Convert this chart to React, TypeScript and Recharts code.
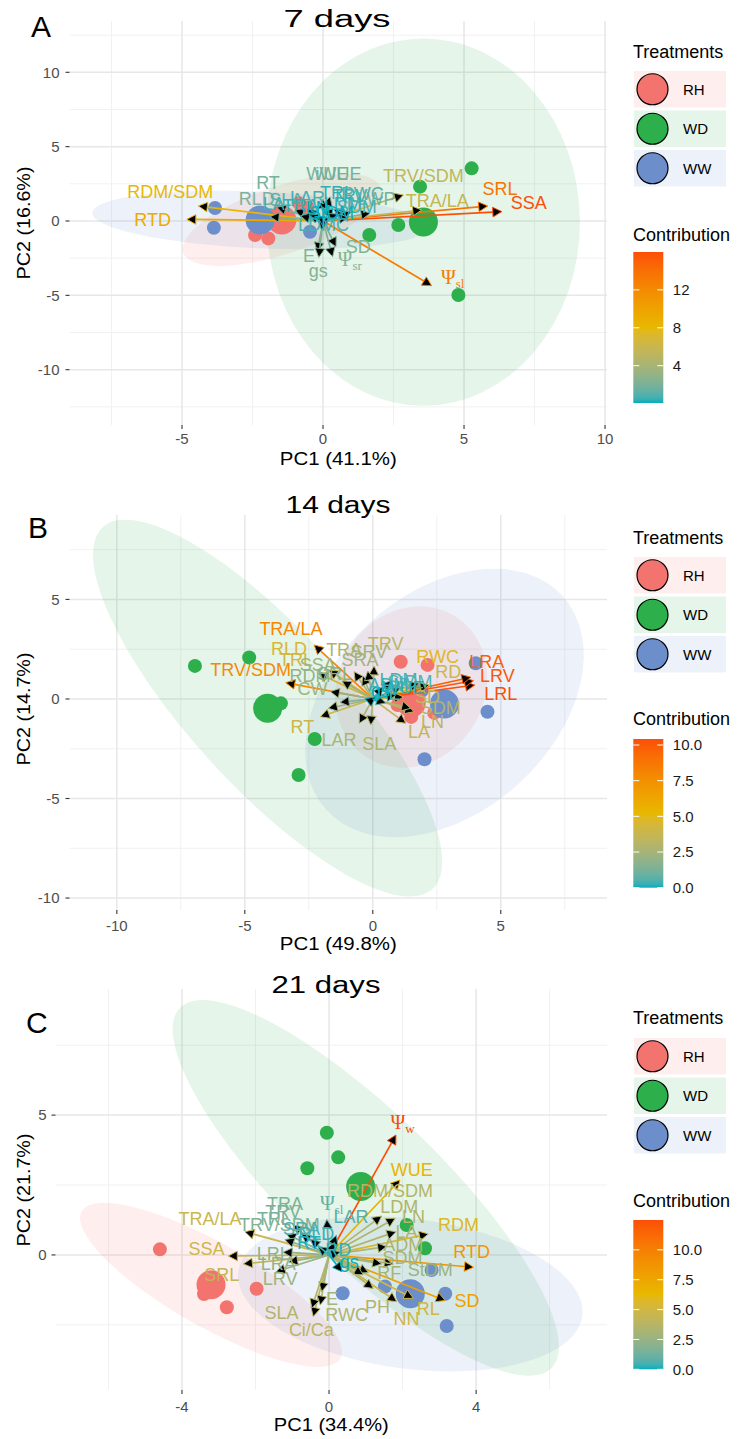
import React from 'react';
import { ScatterChart, Scatter, XAxis, YAxis, CartesianGrid, Customized } from 'recharts';

const SANS = '"Liberation Sans", Arial, Helvetica, sans-serif';
const SERIF = '"Liberation Serif", "Times New Roman", serif';

const treatments = ['RH', 'WD', 'WW'];
const treatmentFill: Record<string, string> = { RH: '#F3736E', WD: '#2DB04B', WW: '#6C8FCB' };

type Sample = { g: string; x: number; y: number };
type Ellipse = { g: string; cx: number; cy: number; ax: number; ay: number; bx: number; by: number };
type Variable = { name: string; x: number; y: number; c: number; lx: number; ly: number };

// ---------------- 7 days ----------------
const samples7: Sample[] = [
  { g: 'RH', x: -2.41, y: -0.94 }, { g: 'RH', x: -1.94, y: -1.17 }, { g: 'RH', x: -1.55, y: 0.35 },
  { g: 'RH', x: -0.85, y: 1.2 }, { g: 'RH', x: -0.55, y: 0.91 },
  { g: 'WD', x: 5.27, y: 3.54 }, { g: 'WD', x: 3.44, y: 2.31 }, { g: 'WD', x: 2.67, y: -0.27 },
  { g: 'WD', x: 1.64, y: -0.94 }, { g: 'WD', x: 4.8, y: -4.98 },
  { g: 'WW', x: -3.83, y: 0.87 }, { g: 'WW', x: -3.87, y: -0.45 }, { g: 'WW', x: -0.46, y: -0.72 },
  { g: 'WW', x: -1.6, y: 0.35 }, { g: 'WW', x: -1.4, y: 0.3 },
];
const centroids7: Sample[] = [
  { g: 'RH', x: -1.46, y: 0.07 }, { g: 'WD', x: 3.56, y: -0.07 }, { g: 'WW', x: -2.23, y: 0.07 },
];
const ellipses7: Ellipse[] = [
  { g: 'RH', cx: -1.46, cy: 0.07, ax: 3.5, ay: 2.2, bx: 0.38, by: -2.17 },
  { g: 'WD', cx: 3.56, cy: -0.07, ax: 5.55, ay: 0, bx: 0, by: 12.35 },
  { g: 'WW', cx: -2.23, cy: 0.07, ax: 5.95, ay: -0.5, bx: 0.1, by: 1.9 },
];
const variables7: Variable[] = [
  { name: 'SSA', x: 6.34, y: 0.63, c: 16.0, lx: 7.3, ly: 1.23 },
  { name: 'SRL', x: 5.84, y: 1.01, c: 13.6, lx: 6.28, ly: 2.2 },
  { name: 'Ψsl', x: 3.85, y: -4.35, c: 13.1, lx: 4.6, ly: -3.8 },
  { name: 'RTD', x: -4.83, y: 0.11, c: 9.3, lx: -6.04, ly: 0.07 },
  { name: 'RDM/SDM', x: -4.42, y: 1.01, c: 8.0, lx: -5.42, ly: 1.97 },
  { name: 'TRA/LA', x: 3.5, y: 0.74, c: 5.6, lx: 4.05, ly: 1.41 },
  { name: 'TRV/SDM', x: 2.85, y: 1.75, c: 5.4, lx: 3.56, ly: 3.09 },
  { name: 'E', x: -0.2, y: -2.05, c: 2.3, lx: -0.5, ly: -2.3 },
  { name: 'gs', x: -0.15, y: -2.45, c: 2.4, lx: -0.17, ly: -3.3 },
  { name: 'Ψsr', x: 0.34, y: -2.4, c: 2.3, lx: 0.95, ly: -2.55 },
  { name: 'SD', x: 0.46, y: -1.73, c: 2.2, lx: 1.25, ly: -1.73 },
  { name: 'RT', x: -1.64, y: 0.92, c: 2.0, lx: -1.95, ly: 2.6 },
  { name: 'RLD', x: -1.88, y: 0.29, c: 2.1, lx: -2.35, ly: 1.48 },
  { name: 'WUE', x: 0.25, y: 1.63, c: 2.0, lx: 0.15, ly: 3.2 },
  { name: 'iWUE', x: 0.0, y: 1.46, c: 1.8, lx: 0.55, ly: 3.2 },
  { name: 'LWP', x: 1.67, y: 0.52, c: 1.9, lx: 1.9, ly: 1.5 },
  { name: 'SLA', x: -1.0, y: 0.75, c: 1.0, lx: -1.3, ly: 1.45 },
  { name: 'LAR', x: -0.55, y: 0.8, c: 0.6, lx: -0.55, ly: 1.6 },
  { name: 'LA', x: -0.8, y: 0.35, c: 0.5, lx: -1.75, ly: 1.2 },
  { name: 'TRA', x: -0.5, y: 0.4, c: 0.4, lx: -0.8, ly: 1.05 },
  { name: 'TRL', x: 0.35, y: 0.85, c: 0.3, lx: 0.5, ly: 1.9 },
  { name: 'TRV', x: 0.75, y: 0.8, c: 0.5, lx: 0.95, ly: 1.7 },
  { name: 'RWC', x: 1.0, y: 0.6, c: 0.9, lx: 1.4, ly: 1.85 },
  { name: 'LDM', x: 0.55, y: 0.45, c: 0.3, lx: 0.7, ly: 1.2 },
  { name: 'SDM', x: 0.9, y: 0.25, c: 0.7, lx: 1.2, ly: 0.95 },
  { name: 'LN', x: -0.3, y: 0.3, c: 0.06, lx: -0.2, ly: 0.9 },
  { name: 'LDMC', x: -0.05, y: -0.6, c: 0.8, lx: 0.02, ly: -0.27 },
  { name: 'StDM', x: 0.2, y: 0.2, c: 0.1, lx: 0.3, ly: 0.55 },
];
const xTicks7 = [-5, 0, 5, 10];
const yTicks7 = [-10, -5, 0, 5, 10];
const xMinor7 = [-7.5, -2.5, 2.5, 7.5];
const yMinor7 = [-12.5, -7.5, -2.5, 2.5, 7.5, 12.5];
const legendTicks7 = [4, 8, 12];

// ---------------- 14 days ----------------
const samples14: Sample[] = [
  { g: 'RH', x: 1.09, y: 1.87 }, { g: 'RH', x: 2.14, y: 1.71 }, { g: 'RH', x: 0.97, y: -0.3 },
  { g: 'RH', x: 1.5, y: -0.9 }, { g: 'RH', x: 2.4, y: -0.7 },
  { g: 'WD', x: -6.95, y: 1.66 }, { g: 'WD', x: -4.83, y: 2.08 }, { g: 'WD', x: -3.59, y: -0.22 },
  { g: 'WD', x: -2.27, y: -2.01 }, { g: 'WD', x: -2.9, y: -3.82 },
  { g: 'WW', x: 4.02, y: 1.79 }, { g: 'WW', x: 4.48, y: -0.64 }, { g: 'WW', x: 2.02, y: -3.03 },
  { g: 'WW', x: 1.6, y: 0.5 }, { g: 'WW', x: 1.9, y: 0.4 },
];
const centroids14: Sample[] = [
  { g: 'RH', x: 1.5, y: -0.2 }, { g: 'WD', x: -4.11, y: -0.47 }, { g: 'WW', x: 2.8, y: -0.25 },
];
const ellipses14: Ellipse[] = [
  { g: 'RH', cx: 1.5, cy: 0.6, ax: 2.73, ay: 2.01, bx: 1.17, by: -3.52 },
  { g: 'WD', cx: -4.11, cy: -0.46, ax: 6.44, ay: -9.09, bx: 2.25, by: 2.64 },
  { g: 'WW', cx: 2.8, cy: -0.2, ax: 4.61, ay: 5.38, bx: 2.89, by: -4.07 },
];
const variables14: Variable[] = [
  { name: 'LRL', x: 3.98, y: 0.7, c: 10.42, lx: 5.0, ly: 0.28 },
  { name: 'LRV', x: 3.93, y: 0.92, c: 10.1, lx: 4.87, ly: 1.2 },
  { name: 'LRA', x: 3.83, y: 1.09, c: 9.8, lx: 4.45, ly: 1.87 },
  { name: 'TRA/LA', x: -2.29, y: 2.71, c: 8.0, lx: -3.2, ly: 3.55 },
  { name: 'TRV/SDM', x: -3.4, y: 0.82, c: 7.8, lx: -4.77, ly: 1.46 },
  { name: 'RLD', x: -1.72, y: 1.45, c: 4.5, lx: -3.27, ly: 2.55 },
  { name: 'TRL', x: -2.13, y: 1.29, c: 4.2, lx: -3.0, ly: 2.0 },
  { name: 'RT', x: -2.05, y: -0.89, c: 4.0, lx: -2.75, ly: -1.39 },
  { name: 'RWC', x: 2.2, y: 0.7, c: 4.8, lx: 2.53, ly: 2.13 },
  { name: 'RD', x: 1.81, y: 0.79, c: 4.0, lx: 2.95, ly: 1.37 },
  { name: 'TRV', x: 0.05, y: 1.66, c: 3.1, lx: 0.5, ly: 2.8 },
  { name: 'TRA', x: -0.73, y: 1.37, c: 2.8, lx: -1.12, ly: 2.5 },
  { name: 'SRA', x: -0.4, y: 1.15, c: 2.4, lx: -0.5, ly: 2.0 },
  { name: 'SRV', x: -0.2, y: 1.4, c: 2.3, lx: -0.15, ly: 2.4 },
  { name: 'SSA', x: -1.2, y: 0.9, c: 2.2, lx: -2.15, ly: 1.75 },
  { name: 'RDM', x: -1.66, y: 0.37, c: 1.9, lx: -2.45, ly: 1.2 },
  { name: 'CW', x: -1.74, y: -0.47, c: 2.3, lx: -2.36, ly: 0.54 },
  { name: 'SRL', x: -1.28, y: -0.17, c: 1.6, lx: -1.5, ly: 1.3 },
  { name: 'LA', x: 1.29, y: -1.22, c: 3.6, lx: 1.81, ly: -1.64 },
  { name: 'LN', x: 1.61, y: -0.64, c: 3.3, lx: 2.33, ly: -1.14 },
  { name: 'SDM', x: 1.48, y: -0.47, c: 2.9, lx: 2.65, ly: -0.45 },
  { name: 'SD', x: 1.2, y: 0.1, c: 3.4, lx: 2.14, ly: 0.12 },
  { name: 'SLA', x: -0.08, y: -1.31, c: 2.8, lx: 0.25, ly: -2.23 },
  { name: 'LAR', x: -0.53, y: -1.22, c: 2.7, lx: -1.32, ly: -2.06 },
  { name: 'LDM', x: 0.7, y: 0.9, c: 0.4, lx: 1.0, ly: 1.0 },
  { name: 'StDM', x: 1.1, y: 0.6, c: 0.6, lx: 1.45, ly: 0.9 },
  { name: 'ADM', x: 0.4, y: 0.6, c: 0.3, lx: 0.6, ly: 0.75 },
  { name: 'E', x: 0.5, y: -0.2, c: 0.5, lx: 0.85, ly: 0.25 },
  { name: 'WUE', x: 0.9, y: 0.2, c: 0.1, lx: 1.2, ly: 0.55 },
  { name: 'gs', x: 0.1, y: 0.1, c: 0.0, lx: 0.3, ly: 0.4 },
];
const xTicks14 = [-10, -5, 0, 5];
const yTicks14 = [-10, -5, 0, 5];
const xMinor14 = [-7.5, -2.5, 2.5, 7.5];
const yMinor14 = [-7.5, -2.5, 2.5, 7.5];
const legendTicks14 = [0, 2.5, 5, 7.5, 10];

// ---------------- 21 days ----------------
const samples21: Sample[] = [
  { g: 'RH', x: -4.6, y: 0.2 }, { g: 'RH', x: -2.78, y: -1.87 }, { g: 'RH', x: -1.97, y: -1.21 },
  { g: 'RH', x: -3.3, y: -0.9 }, { g: 'RH', x: -3.4, y: -1.4 },
  { g: 'WD', x: -0.06, y: 4.37 }, { g: 'WD', x: 0.25, y: 3.49 }, { g: 'WD', x: -0.59, y: 3.1 },
  { g: 'WD', x: 2.11, y: 1.07 }, { g: 'WD', x: 2.61, y: 0.24 },
  { g: 'WW', x: 0.37, y: -1.37 }, { g: 'WW', x: 3.16, y: -1.39 }, { g: 'WW', x: 3.2, y: -2.54 },
  { g: 'WW', x: 2.79, y: -0.54 }, { g: 'WW', x: 1.52, y: -1.13 },
];
const centroids21: Sample[] = [
  { g: 'RH', x: -3.21, y: -1.07 }, { g: 'WD', x: 0.86, y: 2.45 }, { g: 'WW', x: 2.21, y: -1.39 },
];
const ellipses21: Ellipse[] = [
  { g: 'RH', cx: -3.21, cy: -1.07, ax: 3.52, ay: -2.63, bx: 0.56, by: 1.3 },
  { g: 'WD', cx: 1.0, cy: 2.4, ax: 5.06, ay: -6.43, bx: 1.41, by: 1.94 },
  { g: 'WW', cx: 2.21, cy: -1.39, ax: 4.68, ay: -0.79, bx: -0.26, by: -2.66 },
];
const variables21: Variable[] = [
  { name: 'Ψw', x: 1.82, y: 4.29, c: 12.5, lx: 2.0, ly: 4.76 },
  { name: 'RTD', x: 3.93, y: -0.44, c: 8.6, lx: 3.88, ly: 0.12 },
  { name: 'SD', x: 3.16, y: -1.63, c: 8.0, lx: 3.75, ly: -1.63 },
  { name: 'WUE', x: 1.93, y: 2.68, c: 6.5, lx: 2.25, ly: 3.04 },
  { name: 'RDM', x: 2.7, y: 0.75, c: 5.6, lx: 3.52, ly: 1.07 },
  { name: 'RL', x: 2.29, y: -1.55, c: 5.0, lx: 2.7, ly: -1.92 },
  { name: 'NN', x: 1.84, y: -1.67, c: 4.9, lx: 2.11, ly: -2.26 },
  { name: 'TRA/LA', x: -2.29, y: 0.83, c: 4.7, lx: -3.24, ly: 1.31 },
  { name: 'SSA', x: -2.74, y: -0.04, c: 4.8, lx: -3.33, ly: 0.24 },
  { name: 'SRL', x: -2.33, y: -0.32, c: 4.3, lx: -2.92, ly: -0.71 },
  { name: 'Ci/Ca', x: -0.43, y: -2.2, c: 4.0, lx: -0.48, ly: -2.68 },
  { name: 'RDM/SDM', x: 1.43, y: 1.39, c: 3.6, lx: 1.66, ly: 2.29 },
  { name: 'LDM', x: 1.8, y: 1.31, c: 3.5, lx: 1.91, ly: 1.73 },
  { name: 'LN', x: 1.82, y: 0.83, c: 3.4, lx: 2.3, ly: 1.37 },
  { name: 'LA', x: 1.57, y: 0.3, c: 3.3, lx: 2.11, ly: 0.83 },
  { name: 'ADM', x: 1.75, y: -0.32, c: 3.2, lx: 2.02, ly: 0.36 },
  { name: 'SDM', x: 1.43, y: -0.32, c: 3.0, lx: 2.0, ly: -0.08 },
  { name: 'StDM', x: 1.07, y: -0.63, c: 2.6, lx: 2.75, ly: -0.51 },
  { name: 'RF', x: 0.93, y: -0.71, c: 3.0, lx: 1.64, ly: -0.63 },
  { name: 'PH', x: 1.2, y: -1.2, c: 3.4, lx: 1.32, ly: -1.85 },
  { name: 'RWC', x: -0.24, y: -1.79, c: 3.4, lx: 0.48, ly: -2.14 },
  { name: 'E', x: -0.2, y: -1.31, c: 3.0, lx: 0.08, ly: -1.55 },
  { name: 'SLA', x: -0.47, y: -1.9, c: 3.5, lx: -1.29, ly: -2.06 },
  { name: 'LRV', x: -1.44, y: -0.6, c: 2.6, lx: -1.33, ly: -0.83 },
  { name: 'LRA', x: -1.1, y: -0.25, c: 2.4, lx: -1.38, ly: -0.3 },
  { name: 'LRL', x: -1.25, y: 0.1, c: 2.2, lx: -1.52, ly: 0.06 },
  { name: 'TRA', x: -0.97, y: 1.07, c: 1.6, lx: -1.2, ly: 1.85 },
  { name: 'TRV', x: -0.75, y: 0.75, c: 1.5, lx: -1.25, ly: 1.55 },
  { name: 'TRL', x: -1.15, y: 0.75, c: 1.4, lx: -1.5, ly: 1.3 },
  { name: 'TRV/SDM', x: -1.2, y: 0.55, c: 1.8, lx: -1.35, ly: 1.08 },
  { name: 'Ψsl', x: -0.06, y: 1.27, c: 1.0, lx: 0.07, ly: 1.85 },
  { name: 'LAR', x: 0.2, y: 0.7, c: 0.8, lx: 0.6, ly: 1.37 },
  { name: 'RLD', x: 0.15, y: 0.45, c: 0.3, lx: -0.35, ly: 0.75 },
  { name: 'RD', x: 0.3, y: 0.1, c: 0.2, lx: 0.25, ly: 0.2 },
  { name: 'RT', x: -0.3, y: 0.3, c: 0.1, lx: -0.55, ly: 0.45 },
  { name: 'SRA', x: -0.5, y: 0.55, c: 0.6, lx: -0.75, ly: 0.95 },
  { name: 'gs', x: 0.35, y: -0.6, c: 0.0, lx: 0.55, ly: -0.25 },
];
const xTicks21 = [-4, 0, 4];
const yTicks21 = [0, 5];
const xMinor21 = [-6, -2, 2, 6];
const yMinor21 = [-2.5, 2.5, 7.5];
const legendTicks21 = [0, 2.5, 5, 7.5, 10];

// ---------- contribution colour ramp (interpolated in CIELAB) ----------
const toLin = (c: number) => { const v = c / 255; return v <= 0.04045 ? v / 12.92 : Math.pow((v + 0.055) / 1.055, 2.4); };
const fromLin = (c: number) => {
  const v = c <= 0.0031308 ? 12.92 * c : 1.055 * Math.pow(c, 1 / 2.4) - 0.055;
  return Math.round(Math.min(1, Math.max(0, v)) * 255);
};
const EPS = 216 / 24389, KAP = 24389 / 27;
const fLab = (t: number) => (t > EPS ? Math.cbrt(t) : (KAP * t + 16) / 116);
const fInv = (t: number) => (t * t * t > EPS ? t * t * t : (116 * t - 16) / KAP);
const WX = 0.95047, WZ = 1.08883;
function labOf(hex: string): number[] {
  const r = toLin(parseInt(hex.slice(1, 3), 16));
  const g = toLin(parseInt(hex.slice(3, 5), 16));
  const b = toLin(parseInt(hex.slice(5, 7), 16));
  const X = (0.4124 * r + 0.3576 * g + 0.1805 * b) / WX;
  const Y = 0.2126 * r + 0.7152 * g + 0.0722 * b;
  const Z = (0.0193 * r + 0.1192 * g + 0.9505 * b) / WZ;
  const fx = fLab(X), fy = fLab(Y), fz = fLab(Z);
  return [116 * fy - 16, 500 * (fx - fy), 200 * (fy - fz)];
}
function hexOf(lab: number[]): string {
  const fy = (lab[0] + 16) / 116, fx = fy + lab[1] / 500, fz = fy - lab[2] / 200;
  const X = fInv(fx) * WX, Y = fInv(fy), Z = fInv(fz) * WZ;
  const r = fromLin(3.2406 * X - 1.5372 * Y - 0.4986 * Z);
  const g = fromLin(-0.9689 * X + 1.8758 * Y + 0.0415 * Z);
  const b = fromLin(0.0557 * X - 0.204 * Y + 1.057 * Z);
  return '#' + [r, g, b].map((v) => v.toString(16).padStart(2, '0')).join('');
}
const RAMP = ['#00AFBB', '#E7B800', '#FC4E07'].map(labOf);
function rampColor(t: number): string {
  const tt = Math.max(0, Math.min(1, t));
  const seg = tt < 0.5 ? 0 : 1;
  const f = tt < 0.5 ? tt * 2 : (tt - 0.5) * 2;
  const a = RAMP[seg], b = RAMP[seg + 1];
  return hexOf([a[0] + (b[0] - a[0]) * f, a[1] + (b[1] - a[1]) * f, a[2] + (b[2] - a[2]) * f]);
}

// ---------- panel setup ----------
type Layout = {
  height: number; top: number; yAxisWidth: number; xAxisHeight: number; xTickMargin: number; yTickMargin: number;
  tagX: number; tagY: number; titleX: number; titleY: number; titleLen: number;
  xTitleY: number; xTitleLen: number; yTitleMid: number;
  treatY: number; keyTops: number[]; contribY: number; barTop: number; barBottom: number;
};
type Panel = {
  tag: string; title: string; pc1: number; pc2: number;
  samples: Sample[]; centroids: Sample[]; ellipses: Ellipse[]; variables: Variable[];
  xDomain: number[]; yDomain: number[]; xTicks: number[]; yTicks: number[]; xMinor: number[]; yMinor: number[];
  legendTicks: number[]; legendDigits: number; layout: Layout;
};

const panels: Panel[] = [
  {
    tag: 'A', title: '7 days', pc1: 41.1, pc2: 16.6,
    samples: samples7, centroids: centroids7, ellipses: ellipses7, variables: variables7,
    xDomain: [-8.99, 10.07], yDomain: [-13.72, 13.45],
    xTicks: xTicks7, yTicks: yTicks7, xMinor: xMinor7, yMinor: yMinor7,
    legendTicks: legendTicks7, legendDigits: 0,
    layout: {
      height: 480, top: 21, yAxisWidth: 69.5, xAxisHeight: 55, xTickMargin: 4, yTickMargin: 6,
      tagX: 31, tagY: 37, titleX: 337, titleY: 26.7, titleLen: 107,
      xTitleY: 464.5, xTitleLen: 117, yTitleMid: 223,
      treatY: 57.5, keyTops: [71, 110.5, 150], contribY: 240.5, barTop: 252, barBottom: 403,
    },
  },
  {
    tag: 'B', title: '14 days', pc1: 49.8, pc2: 14.7,
    samples: samples14, centroids: centroids14, ellipses: ellipses14, variables: variables14,
    xDomain: [-11.85, 9.15], yDomain: [-10.6, 9.24],
    xTicks: xTicks14, yTicks: yTicks14, xMinor: xMinor14, yMinor: yMinor14,
    legendTicks: legendTicks14, legendDigits: 1,
    layout: {
      height: 480, top: 35, yAxisWidth: 69.5, xAxisHeight: 50, xTickMargin: 6, yTickMargin: 6,
      tagX: 28, tagY: 58, titleX: 338, titleY: 33.3, titleLen: 105,
      xTitleY: 469.5, xTitleLen: 117, yTitleMid: 229,
      treatY: 64.3, keyTops: [77, 116.5, 156], contribY: 245.3, barTop: 259, barBottom: 407.7,
    },
  },
  {
    tag: 'C', title: '21 days', pc1: 34.4, pc2: 21.7,
    samples: samples21, centroids: centroids21, ellipses: ellipses21, variables: variables21,
    xDomain: [-7.44, 7.56], yDomain: [-4.83, 9.51],
    xTicks: xTicks21, yTicks: yTicks21, xMinor: xMinor21, yMinor: yMinor21,
    legendTicks: legendTicks21, legendDigits: 1,
    layout: {
      height: 479, top: 29, yAxisWidth: 55.5, xAxisHeight: 49, xTickMargin: 7, yTickMargin: 5,
      tagX: 26, tagY: 73, titleX: 326, titleY: 33.3, titleLen: 109,
      xTitleY: 471, xTitleLen: 115, yTitleMid: 230,
      treatY: 64, keyTops: [78, 117.5, 157], contribY: 247, barTop: 260, barBottom: 409.3,
    },
  },
];

const PLOT_RIGHT = 607;

// ---------- drawing helpers ----------
const Blank = () => <g />;

const ellipseLine = (fill: string) => (p: any) => {
  const pts = (p && p.points) || [];
  if (pts.length < 3) return <g />;
  const [o, u, v] = pts;
  return (
    <circle
      cx={0} cy={0} r={1} fill={fill} fillOpacity={0.12} stroke="none"
      transform={`matrix(${u.x - o.x},${u.y - o.y},${v.x - o.x},${v.y - o.y},${o.x},${o.y})`}
    />
  );
};

const arrowLines = (cols: string[]) => (p: any) => {
  const pts = (p && p.points) || [];
  const out: React.ReactNode[] = [];
  for (let i = 0; i + 1 < pts.length; i += 2) {
    const o = pts[i], t = pts[i + 1];
    const col = cols[i / 2];
    const dx = t.x - o.x, dy = t.y - o.y;
    const len = Math.hypot(dx, dy) || 1;
    const ux = dx / len, uy = dy / len;
    const L = 9, W = 4.8;
    const bx = t.x - ux * L, by = t.y - uy * L;
    out.push(
      <g key={i}>
        <line x1={o.x} y1={o.y} x2={bx} y2={by} stroke={col} strokeWidth={1.7} />
        <polygon
          points={`${t.x},${t.y} ${bx - uy * W},${by + ux * W} ${bx + uy * W},${by - ux * W}`}
          fill="#000" stroke={col} strokeWidth={1} strokeLinejoin="miter"
        />
      </g>,
    );
  }
  return <g>{out}</g>;
};

const VarLabel = (p: any) => {
  const { cx, cy, payload } = p;
  if (cx == null || cy == null) return <g />;
  const name: string = payload.name;
  if (name.startsWith('Ψ')) {
    return (
      <text x={cx} y={cy} dy="0.35em" textAnchor="middle" fill={payload.col} fontFamily={SERIF} fontSize={20}>
        Ψ<tspan fontSize={13} dy={4}>{name.slice(1)}</tspan>
      </text>
    );
  }
  return (
    <text x={cx} y={cy} dy="0.36em" textAnchor="middle" fill={payload.col} fontFamily={SANS} fontSize={18}>
      {name}
    </text>
  );
};

const dot = (r: number, fill: string) => (p: any) =>
  p.cx == null ? <g /> : <circle cx={p.cx} cy={p.cy} r={r} fill={fill} />;

function Decor({ panel, cmin, cmax }: { panel: Panel; cmin: number; cmax: number }) {
  const L = panel.layout;
  const midX = (L.yAxisWidth + PLOT_RIGHT) / 2;
  const gid = 'contribBar' + panel.tag;
  const barX = 633.3, barW = 30;
  const barH = L.barBottom - L.barTop;
  const stops = Array.from({ length: 41 }, (_, i) => i / 40);
  return (
    <g fontFamily={SANS}>
      <defs>
        <linearGradient id={gid} x1="0" y1="1" x2="0" y2="0">
          {stops.map((s) => <stop key={s} offset={s} stopColor={rampColor(s)} />)}
        </linearGradient>
      </defs>
      <text x={L.tagX} y={L.tagY} fontSize={30} fill="#000">{panel.tag}</text>
      <text x={L.titleX} y={L.titleY} fontSize={23} fill="#000" textAnchor="middle"
        textLength={L.titleLen} lengthAdjust="spacingAndGlyphs">{panel.title}</text>
      <text x={midX} y={L.xTitleY} fontSize={18} fill="#000" textAnchor="middle"
        textLength={L.xTitleLen} lengthAdjust="spacingAndGlyphs">{`PC1 (${panel.pc1}%)`}</text>
      <text transform={`translate(29.5, ${L.yTitleMid}) rotate(-90)`} fontSize={18} fill="#000" textAnchor="middle"
        textLength={113} lengthAdjust="spacingAndGlyphs">{`PC2 (${panel.pc2}%)`}</text>

      <text x={633} y={L.treatY} fontSize={18} fill="#000">Treatments</text>
      {treatments.map((g, i) => {
        const top = L.keyTops[i];
        return (
          <g key={g}>
            <rect x={634} y={top} width={92} height={36.5} fill={treatmentFill[g]} fillOpacity={0.12} />
            <circle cx={652.5} cy={top + 18.25} r={15.5} fill={treatmentFill[g]} stroke="#000" strokeWidth={1.2} />
            <text x={683} y={top + 18.25} dy="0.36em" fontSize={15} fill="#000">{g}</text>
          </g>
        );
      })}

      <text x={633} y={L.contribY} fontSize={18} fill="#000">Contribution</text>
      <rect x={barX} y={L.barTop} width={barW} height={barH} fill={`url(#${gid})`} />
      {panel.legendTicks.map((v) => {
        const y = L.barBottom - ((v - cmin) / (cmax - cmin)) * barH;
        return (
          <g key={v}>
            <line x1={barX} x2={barX + 6} y1={y} y2={y} stroke="#fff" strokeWidth={1} />
            <line x1={barX + barW - 6} x2={barX + barW} y1={y} y2={y} stroke="#fff" strokeWidth={1} />
            <text x={barX + barW + 9.5} y={y} dy="0.36em" fontSize={15} fill="#1a1a1a">
              {v.toFixed(panel.legendDigits)}
            </text>
          </g>
        );
      })}
    </g>
  );
}

function Biplot({ panel }: { panel: Panel }) {
  const L = panel.layout;
  const cs = panel.variables.map((v) => v.c);
  const cmin = Math.min(...cs), cmax = Math.max(...cs);
  const colOf = (c: number) => rampColor((c - cmin) / (cmax - cmin));
  const arrowData = panel.variables.flatMap((v) => [{ x: 0, y: 0 }, { x: v.x, y: v.y }]);
  const arrowCols = panel.variables.map((v) => colOf(v.c));
  const labelData = panel.variables.map((v) => ({ x: v.lx, y: v.ly, name: v.name, col: colOf(v.c) }));
  const tickStyle = { fill: '#4D4D4D', fontSize: 15, fontFamily: SANS };

  return (
    <ScatterChart width={740} height={L.height} margin={{ top: L.top, right: 740 - PLOT_RIGHT, bottom: 0, left: 0 }}>
      <CartesianGrid verticalValues={panel.xMinor} horizontalValues={panel.yMinor} stroke="#F1F1F1" strokeWidth={1} />
      <CartesianGrid verticalValues={panel.xTicks} horizontalValues={panel.yTicks} stroke="#E7E7E7" strokeWidth={1.5} />
      <XAxis
        type="number" dataKey="x" domain={panel.xDomain} allowDataOverflow ticks={panel.xTicks} interval={0}
        height={L.xAxisHeight} axisLine={false} tickLine={{ stroke: '#333', strokeWidth: 1.1 }} tickSize={4}
        tickMargin={L.xTickMargin} tick={tickStyle}
      />
      <YAxis
        type="number" dataKey="y" domain={panel.yDomain} allowDataOverflow ticks={panel.yTicks} interval={0}
        width={L.yAxisWidth} axisLine={false} tickLine={{ stroke: '#333', strokeWidth: 1.1 }} tickSize={4}
        tickMargin={L.yTickMargin} tick={tickStyle}
      />
      {panel.ellipses.map((e) => (
        <Scatter
          key={'ell' + e.g}
          data={[{ x: e.cx, y: e.cy }, { x: e.cx + e.ax, y: e.cy + e.ay }, { x: e.cx + e.bx, y: e.cy + e.by }]}
          shape={Blank}
          line={ellipseLine(treatmentFill[e.g])}
          isAnimationActive={false}
        />
      ))}
      {treatments.map((g) => (
        <Scatter
          key={'pts' + g}
          data={panel.samples.filter((s) => s.g === g)}
          shape={dot(7, treatmentFill[g])}
          isAnimationActive={false}
        />
      ))}
      {treatments.map((g) => (
        <Scatter
          key={'mean' + g}
          data={panel.centroids.filter((s) => s.g === g)}
          shape={dot(14.5, treatmentFill[g])}
          isAnimationActive={false}
        />
      ))}
      <Scatter data={arrowData} shape={Blank} line={arrowLines(arrowCols)} isAnimationActive={false} />
      <Scatter data={labelData} shape={VarLabel} isAnimationActive={false} />
      <Customized component={<Decor panel={panel} cmin={cmin} cmax={cmax} />} />
    </ScatterChart>
  );
}

export default function App() {
  return (
    <div style={{ position: 'absolute', left: 0, top: 0, width: 740, background: '#fff' }}>
      {panels.map((p) => (
        <div key={p.tag} style={{ width: 740, height: p.layout.height }}>
          <Biplot panel={p} />
        </div>
      ))}
    </div>
  );
}
